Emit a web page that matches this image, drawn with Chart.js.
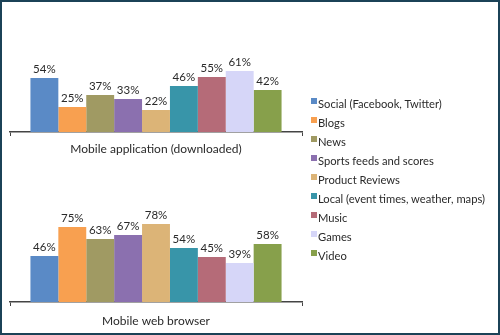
<!DOCTYPE html>
<html>
<head>
<meta charset="utf-8">
<script src="https://cdn.jsdelivr.net/npm/chart.js@4.4.1/dist/chart.umd.min.js"></script>
<style>
  html, body { margin: 0; padding: 0; background: #fff; }
  #frame { position: relative; width: 500px; height: 335px; overflow: hidden; background: #fff; }
  #border { position: absolute; left: 0; top: 0; width: 500px; height: 335px; box-sizing: border-box; border: 2px solid #1b4257; pointer-events: none; }
  .cw { position: absolute; left: 0; width: 312px; height: 165px; }
  #legend { position: absolute; left: 311px; top: 94px; font-family: Lato, "Open Sans", sans-serif; font-size: 11.2px; color: #2a2a2a; }
  .li { height: 19px; display: flex; align-items: center; white-space: nowrap; }
  .sw { width: 6px; height: 6px; margin-right: 1px; margin-top: -5px; }
</style>
</head>
<body>
<div id="frame">
  <div class="cw" style="top:0px"><canvas id="c1" width="312" height="165"></canvas></div>
  <div class="cw" style="top:170px"><canvas id="c2" width="312" height="165"></canvas></div>
  <div id="legend"></div>
  <div id="border"></div>
</div>
<script>
// ---- data ----
const seriesNames = ["Social (Facebook, Twitter)", "Blogs", "News", "Sports feeds and scores", "Product Reviews", "Local (event times, weather, maps)", "Music", "Games", "Video"];
const seriesColors = ["#5a8ac6", "#f8a050", "#a09a63", "#8b70af", "#dcb477", "#3895a9", "#b56b78", "#d6d6f8", "#87a04b"];
const topCategory = ["Mobile application (downloaded)"];
const bottomCategory = ["Mobile web browser"];
const appValues = [54, 25, 37, 33, 22, 46, 55, 61, 42];
const webValues = [46, 75, 63, 67, 78, 54, 45, 39, 58];

const FONT = "Lato, 'Open Sans', sans-serif";

const valueLabels = {
  id: 'valueLabels',
  afterDatasetsDraw(chart) {
    const ctx = chart.ctx;
    ctx.save();
    ctx.font = "11.5px " + FONT;
    ctx.fillStyle = "#2a2a2a";
    ctx.textAlign = "center";
    ctx.textBaseline = "alphabetic";
    chart.data.datasets.forEach((ds, i) => {
      const meta = chart.getDatasetMeta(i);
      meta.data.forEach((bar, j) => {
        ctx.fillText(ds.data[j] + "%", bar.x, bar.y - 5);
      });
    });
    ctx.restore();
  }
};

function makeChart(id, labels, values, tickPad) {
  const datasets = seriesNames.map((name, i) => ({
    label: name,
    data: [values[i]],
    backgroundColor: seriesColors[i],
    borderWidth: 0,
    barPercentage: 1,
    categoryPercentage: 0.86
  }));
  return new Chart(document.getElementById(id), {
    type: 'bar',
    data: { labels: labels, datasets: datasets },
    options: {
      responsive: false,
      animation: false,
      layout: { padding: { left: 10, right: 10, top: 32, bottom: 0 } },
      plugins: { legend: { display: false }, tooltip: { enabled: false } },
      scales: {
        y: { display: false, min: 0, max: 100 },
        x: {
          display: true,
          grid: { drawOnChartArea: false, drawTicks: true, tickLength: 4, color: '#444', lineWidth: 1 },
          border: { display: true, color: '#444', width: 1.5 },
          ticks: { color: '#2a2a2a', font: { family: FONT, size: 12 }, padding: tickPad },
          afterFit(axis) { axis.height = 33; }
        }
      }
    },
    plugins: [valueLabels]
  });
}

makeChart('c1', topCategory, appValues, 6);
makeChart('c2', bottomCategory, webValues, 8);

const lg = document.getElementById('legend');
seriesNames.forEach((n, i) => {
  const d = document.createElement('div');
  d.className = 'li';
  const s = document.createElement('span');
  s.className = 'sw';
  s.style.background = seriesColors[i];
  const t = document.createElement('span');
  t.textContent = n;
  d.appendChild(s); d.appendChild(t);
  lg.appendChild(d);
});
</script>
</body>
</html>
